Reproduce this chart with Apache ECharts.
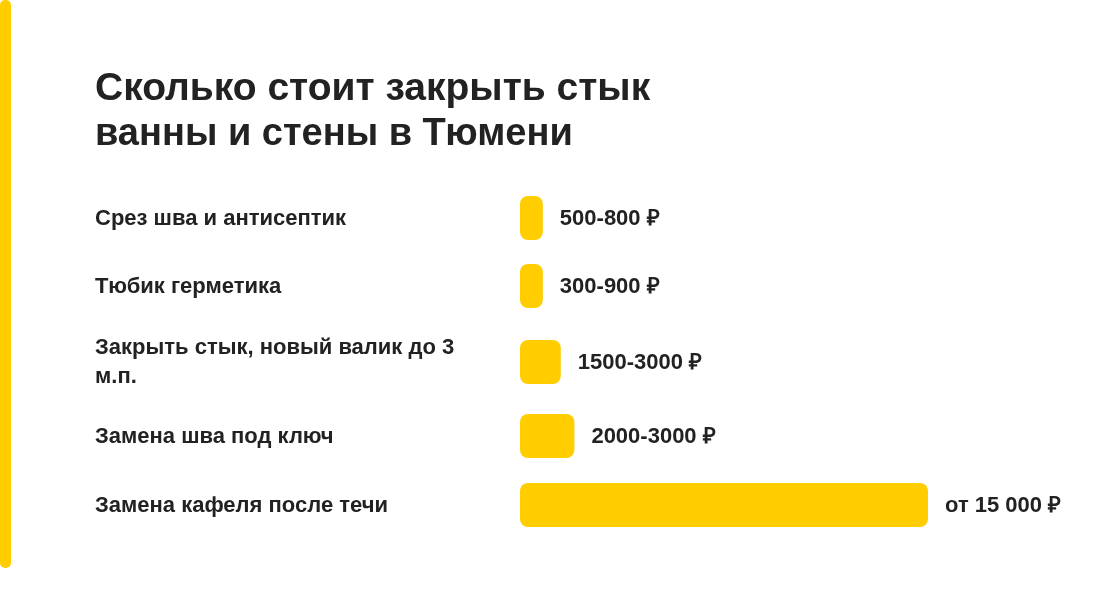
<!DOCTYPE html>
<html>
<head>
<meta charset="utf-8">
<style>html,body{margin:0;padding:0;background:#fff}#chart{width:1100px;height:610px}</style>
<script src="https://cdn.jsdelivr.net/npm/echarts@6/dist/echarts.min.js"></script>
</head>
<body>
<div id="chart"></div>
<script>
var categories = ["Срез шва и антисептик", "Тюбик герметика", "Закрыть стык, новый валик до 3\nм.п.", "Замена шва под ключ", "Замена кафеля после течи"];
var values = [1680, 1680, 3000, 4000, 30000];
var valueLabels = ["500-800 ₽", "300-900 ₽", "1500-3000 ₽", "2000-3000 ₽", "от 15 000 ₽"];
var titleLines = ["Сколько стоит закрыть стык", "ванны и стены в Тюмени"];

// rows are not evenly spaced (two-line label is taller), so each row gets its own grid
var rowTops = [196, 264, 340, 414, 483];
var font = "Liberation Sans";
var myChart = echarts.init(document.getElementById('chart'));

var grids = [], xAxes = [], yAxes = [], series = [];
categories.forEach(function(name, i) {
    var labelStyle = {fontFamily: font, fontSize: 22, fontWeight: 'bold', color: '#222', lineHeight: 29};
    grids.push({left: 520, top: rowTops[i], width: 408, height: 44});
    xAxes.push({gridIndex: i, type: 'value', min: 0, max: 30000, show: false});
    yAxes.push({
        gridIndex: i, type: 'category', data: [name],
        axisLine: {show: false}, axisTick: {show: false},
        axisLabel: {
            margin: 425, align: 'left', fontFamily: font, fontSize: 22, fontWeight: 'bold',
            color: '#222', lineHeight: 29,
            // one-line labels sit 1px lower than the centre of the bar
            formatter: function(v) { return v.indexOf("\n") < 0 ? '{low|' + v + '}' : v; },
            rich: {low: Object.assign({padding: [2, 0, 0, 0]}, labelStyle)}
        }
    });
    series.push({
        type: 'bar', xAxisIndex: i, yAxisIndex: i, data: [values[i]], barWidth: 44,
        itemStyle: {color: '#ffcd00', borderRadius: 8},
        label: {
            show: true, position: 'right', distance: 17, offset: [0, 1],
            formatter: valueLabels[i],
            fontFamily: font, fontSize: 22, fontWeight: 'bold', color: '#222'
        }
    });
});

var option = {
    backgroundColor: '#fff',
    animation: false,
    title: {
        text: '{a|' + titleLines[0] + '}\n{b|' + titleLines[1] + '}', left: 90, top: 61,
        textStyle: {
            rich: {
                a: {fontFamily: font, fontSize: 39, fontWeight: 'bold', color: '#222', lineHeight: 46},
                b: {fontFamily: font, fontSize: 38, fontWeight: 'bold', color: '#222', lineHeight: 46}
            }
        }
    },
    graphic: [{
        type: 'rect', shape: {x: 0, y: 0, width: 11, height: 568, r: 5},
        style: {fill: '#ffcd00'}
    }],
    grid: grids,
    xAxis: xAxes,
    yAxis: yAxes,
    series: series
};
myChart.setOption(option);
</script>
</body>
</html>
